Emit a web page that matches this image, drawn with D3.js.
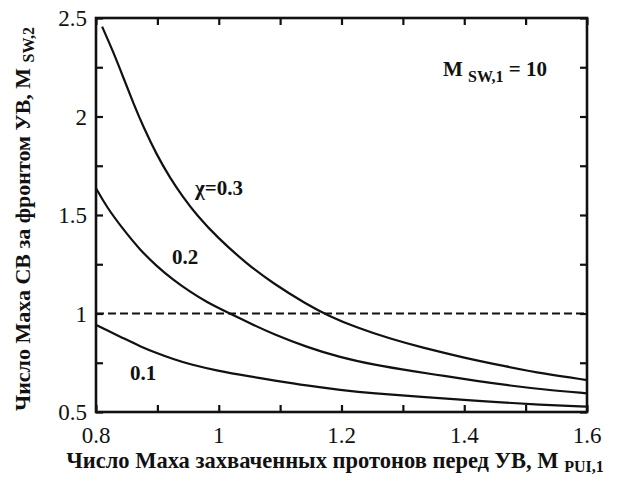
<!DOCTYPE html>
<html>
<head>
<meta charset="utf-8">
<script src="https://d3js.org/d3.v7.min.js"></script>
<style>
  body { margin: 0; background: #fff; }
  svg text { font-family: "Liberation Serif", "Times New Roman", serif; fill: #111; }
</style>
</head>
<body>
<svg id="chart" width="617" height="488"></svg>
<script>
// values
var chi03 = [[0.810,2.456],[0.828,2.329],[0.845,2.194],[0.861,2.067],[0.877,1.948],[0.899,1.805],
             [0.921,1.686],[0.942,1.590],[0.964,1.500],[0.997,1.388],[1.046,1.251],[1.089,1.152],
             [1.143,1.047],[1.179,0.988],[1.225,0.928],[1.279,0.872],[1.330,0.828],[1.400,0.775],
             [1.470,0.730],[1.530,0.694],[1.600,0.662]];
var chi02 = [[0.800,1.636],[0.817,1.542],[0.845,1.424],[0.872,1.322],[0.899,1.240],[0.926,1.170],
             [0.953,1.111],[0.980,1.058],[1.018,1.000],[1.051,0.950],[1.089,0.895],[1.143,0.830],
             [1.198,0.777],[1.252,0.740],[1.320,0.705],[1.366,0.684],[1.420,0.657],[1.475,0.634],
             [1.529,0.614],[1.600,0.595]];
var chi01 = [[0.800,0.942],[0.817,0.916],[0.845,0.874],[0.872,0.833],[0.899,0.799],[0.926,0.768],
             [0.953,0.742],[0.997,0.710],[1.051,0.680],[1.089,0.661],[1.143,0.634],[1.198,0.612],
             [1.252,0.594],[1.328,0.577],[1.420,0.556],[1.529,0.536],[1.600,0.527]];
var series = [chi03, chi02, chi01];
var xTicks = [0.8, 0.9, 1.0, 1.1, 1.2, 1.3, 1.4, 1.5, 1.6];
var xLabels = [0.8, 1.0, 1.2, 1.4, 1.6];
var yTicks = [0.5, 0.75, 1.0, 1.25, 1.5, 1.75, 2.0, 2.25, 2.5];
var yLabels = [0.5, 1, 1.5, 2, 2.5];
var dashedLevel = 1;

var svg = d3.select("#chart");
var pLeft = 96, pRight = 587, pTop = 18, pBottom = 412;

var x = d3.scaleLinear().domain([0.8, 1.6]).range([pLeft, pRight]);
var y = d3.scaleLinear().domain([0.5, 2.5]).range([pBottom, pTop]);

var fmt = function(d) { return String(+d.toFixed(2)); };

// axes, ticks pointing in
svg.append("g").attr("transform", "translate(0," + pBottom + ")")
    .call(d3.axisBottom(x).tickValues(xTicks).tickSizeInner(-7).tickSizeOuter(0).tickFormat(""));
svg.append("g").attr("transform", "translate(0," + pTop + ")")
    .call(d3.axisTop(x).tickValues(xTicks).tickSizeInner(-7).tickSizeOuter(0).tickFormat(""));
svg.append("g").attr("transform", "translate(" + pLeft + ",0)")
    .call(d3.axisLeft(y).tickValues(yTicks).tickSizeInner(-7).tickSizeOuter(0).tickFormat(""));
svg.append("g").attr("transform", "translate(" + pRight + ",0)")
    .call(d3.axisRight(y).tickValues(yTicks).tickSizeInner(-7).tickSizeOuter(0).tickFormat(""));
svg.selectAll(".domain").remove();
svg.selectAll(".tick line").attr("stroke", "#111").attr("stroke-width", 2.2);

svg.append("rect")
    .attr("x", pLeft).attr("y", pTop)
    .attr("width", pRight - pLeft).attr("height", pBottom - pTop)
    .attr("fill", "none").attr("stroke", "#111").attr("stroke-width", 2.6);

// tick labels
svg.selectAll(".xl").data(xLabels).enter().append("text")
    .attr("x", function(d) { return x(d); })
    .attr("y", 443)
    .attr("text-anchor", "middle")
    .attr("font-size", 23)
    .text(fmt);
svg.selectAll(".yl").data(yLabels).enter().append("text")
    .attr("x", pLeft - 9)
    .attr("y", function(d) { return y(d) + 8; })
    .attr("text-anchor", "end")
    .attr("font-size", 23)
    .text(fmt);

// dashed reference
svg.append("line")
    .attr("x1", x(0.8)).attr("x2", x(1.6))
    .attr("y1", y(dashedLevel)).attr("y2", y(dashedLevel))
    .attr("stroke", "#111").attr("stroke-width", 2.2)
    .attr("stroke-dasharray", "8,4");

var line = d3.line()
    .x(function(d) { return x(d[0]); })
    .y(function(d) { return y(d[1]); })
    .curve(d3.curveBasis);

svg.selectAll(".curve").data(series).enter().append("path")
    .attr("d", line)
    .attr("fill", "none")
    .attr("stroke", "#111")
    .attr("stroke-width", 2.2);

// curve labels
var lab = svg.append("g").attr("font-weight", "bold").attr("font-size", 21);
lab.append("text").attr("x", 195).attr("y", 195).text("\u03c7=0.3");
lab.append("text").attr("x", 172).attr("y", 264).text("0.2");
lab.append("text").attr("x", 130).attr("y", 380).text("0.1");

var ann = lab.append("text").attr("x", 443).attr("y", 76).attr("font-size", 21);
ann.append("tspan").text("M ");
ann.append("tspan").attr("dy", 6).attr("font-size", 16).text("SW,1");
ann.append("tspan").attr("dy", -6).text(" = 10");

// axis titles
var xt = svg.append("text")
    .attr("x", 335).attr("y", 468)
    .attr("text-anchor", "middle")
    .attr("font-weight", "bold").attr("font-size", 22.5);
xt.append("tspan").text("Число Маха захваченных протонов перед УВ, M ");
xt.append("tspan").attr("dy", 4).attr("font-size", 16).text("PUI,1");

var yt = svg.append("text")
    .attr("transform", "translate(30,219) rotate(-90)")
    .attr("text-anchor", "middle")
    .attr("font-weight", "bold").attr("font-size", 22);
yt.append("tspan").text("Число Маха СВ за фронтом УВ, M ");
yt.append("tspan").attr("dy", 4).attr("font-size", 16).text("SW,2");
</script>
</body>
</html>
